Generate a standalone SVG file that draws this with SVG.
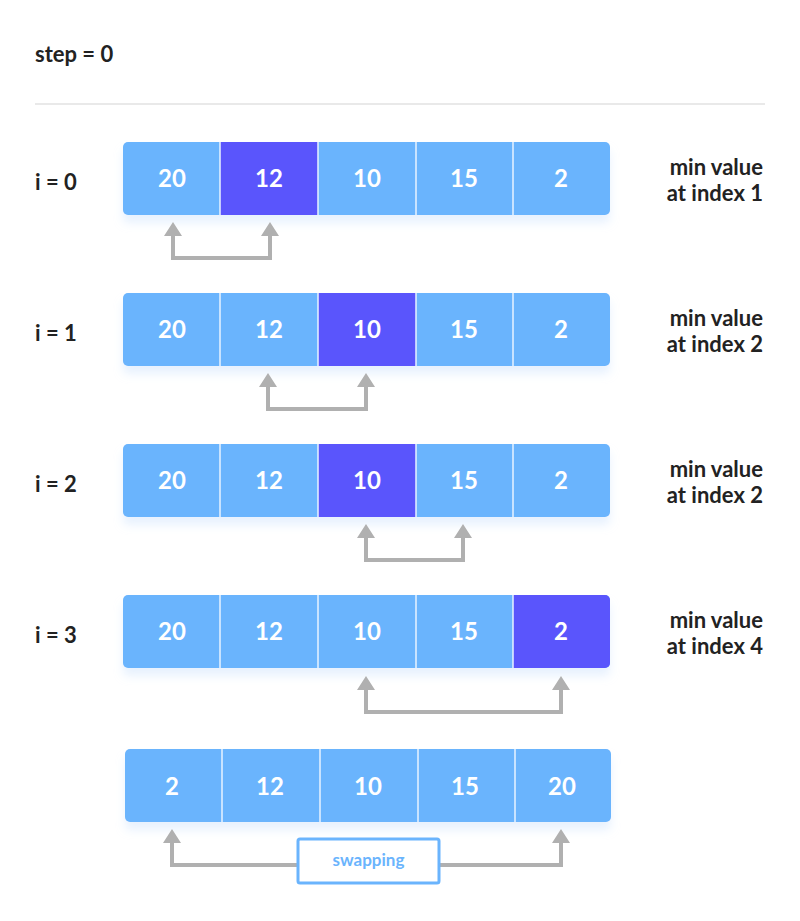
<svg xmlns="http://www.w3.org/2000/svg" width="800" height="921" viewBox="0 0 800 921">
<style>
text{font-family:Lato,"Open Sans",sans-serif;font-weight:bold}
.c{fill:#6ab4fd}.m{fill:#5a55fc}.v{fill:#fff;font-size:24px;text-anchor:middle}
.sep{stroke:#e8f2ff;stroke-width:1.5}
.l{fill:#222;font-size:22px}.r{fill:#222;font-size:22px;text-anchor:end}
.a{fill:none;stroke:#b0b0b0;stroke-width:4}
.h{fill:#b0b0b0}
</style>
<defs><filter id="sh" x="-10%" y="-20%" width="120%" height="160%"><feDropShadow dx="0" dy="8" stdDeviation="5" flood-color="#bcd8fb" flood-opacity="0.35"/></filter></defs>
<text x="35" y="62" class="l">step = 0</text>
<line x1="35" y1="104" x2="765" y2="104" stroke="#e2e2e2" stroke-width="1.5"/>
<g id="row0">
<rect x="123" y="142" width="487" height="73" rx="5" class="c" filter="url(#sh)"/>
<rect x="220" y="142" width="98" height="73" class="m"/>
<path d="M220 142V215M318 142V215M416 142V215M513 142V215" class="sep"/>
<text x="172" y="187" class="v">20</text><text x="269" y="187" class="v">12</text><text x="367" y="187" class="v">10</text><text x="464" y="187" class="v">15</text><text x="561" y="187" class="v">2</text>
<text x="35" y="190" class="l">i = 0</text>
<text x="763" y="175" class="r">min value</text><text x="763" y="201" class="r">at index 1</text>
</g>
<g id="row1">
<rect x="123" y="293" width="487" height="73" rx="5" class="c" filter="url(#sh)"/>
<rect x="318" y="293" width="98" height="73" class="m"/>
<path d="M220 293V366M318 293V366M416 293V366M513 293V366" class="sep"/>
<text x="172" y="338" class="v">20</text><text x="269" y="338" class="v">12</text><text x="367" y="338" class="v">10</text><text x="464" y="338" class="v">15</text><text x="561" y="338" class="v">2</text>
<text x="35" y="341" class="l">i = 1</text>
<text x="763" y="326" class="r">min value</text><text x="763" y="352" class="r">at index 2</text>
</g>
<g id="row2">
<rect x="123" y="444" width="487" height="73" rx="5" class="c" filter="url(#sh)"/>
<rect x="318" y="444" width="98" height="73" class="m"/>
<path d="M220 444V517M318 444V517M416 444V517M513 444V517" class="sep"/>
<text x="172" y="489" class="v">20</text><text x="269" y="489" class="v">12</text><text x="367" y="489" class="v">10</text><text x="464" y="489" class="v">15</text><text x="561" y="489" class="v">2</text>
<text x="35" y="492" class="l">i = 2</text>
<text x="763" y="477" class="r">min value</text><text x="763" y="503" class="r">at index 2</text>
</g>
<g id="row3">
<rect x="123" y="595" width="487" height="73" rx="5" class="c" filter="url(#sh)"/>
<path d="M513 595H605A5 5 0 0 1 610 600V663A5 5 0 0 1 605 668H513Z" class="m"/>
<path d="M220 595V668M318 595V668M416 595V668M513 595V668" class="sep"/>
<text x="172" y="640" class="v">20</text><text x="269" y="640" class="v">12</text><text x="367" y="640" class="v">10</text><text x="464" y="640" class="v">15</text><text x="561" y="640" class="v">2</text>
<text x="35" y="643" class="l">i = 3</text>
<text x="763" y="628" class="r">min value</text><text x="763" y="654" class="r">at index 4</text>
</g>
<g id="result">
<rect x="125" y="749" width="486" height="73" rx="5" class="c" filter="url(#sh)"/>
<path d="M222 749V822M320 749V822M418 749V822M515 749V822" class="sep"/>
<text x="172" y="795" class="v">2</text><text x="270" y="795" class="v">12</text><text x="368" y="795" class="v">10</text><text x="465" y="795" class="v">15</text><text x="562" y="795" class="v">20</text>
</g>
<g id="connectors">
<path d="M173 236V258H270V236" class="a"/>
<path d="M164 236L173 222L182 236ZM261 236L270 222L279 236Z" class="h"/>
<path d="M268 387V409H366V387" class="a"/>
<path d="M259 387L268 373L277 387ZM357 387L366 373L375 387Z" class="h"/>
<path d="M366 538V560H463V538" class="a"/>
<path d="M357 538L366 524L375 538ZM454 538L463 524L472 538Z" class="h"/>
<path d="M366 690V712H561V690" class="a"/>
<path d="M357 690L366 676L375 690ZM552 690L561 676L570 690Z" class="h"/>
<path d="M172 843V865H298M440 865H561V843" class="a"/>
<path d="M163 843L172 829L181 843ZM552 843L561 829L570 843Z" class="h"/>
</g>
<g id="swapping">
<rect x="298" y="839" width="141" height="44" rx="2" fill="#fff" stroke="#6ab4fd" stroke-width="3"/>
<text x="368.5" y="866" fill="#6ab4fd" font-size="17" text-anchor="middle">swapping</text>
</g>
</svg>
